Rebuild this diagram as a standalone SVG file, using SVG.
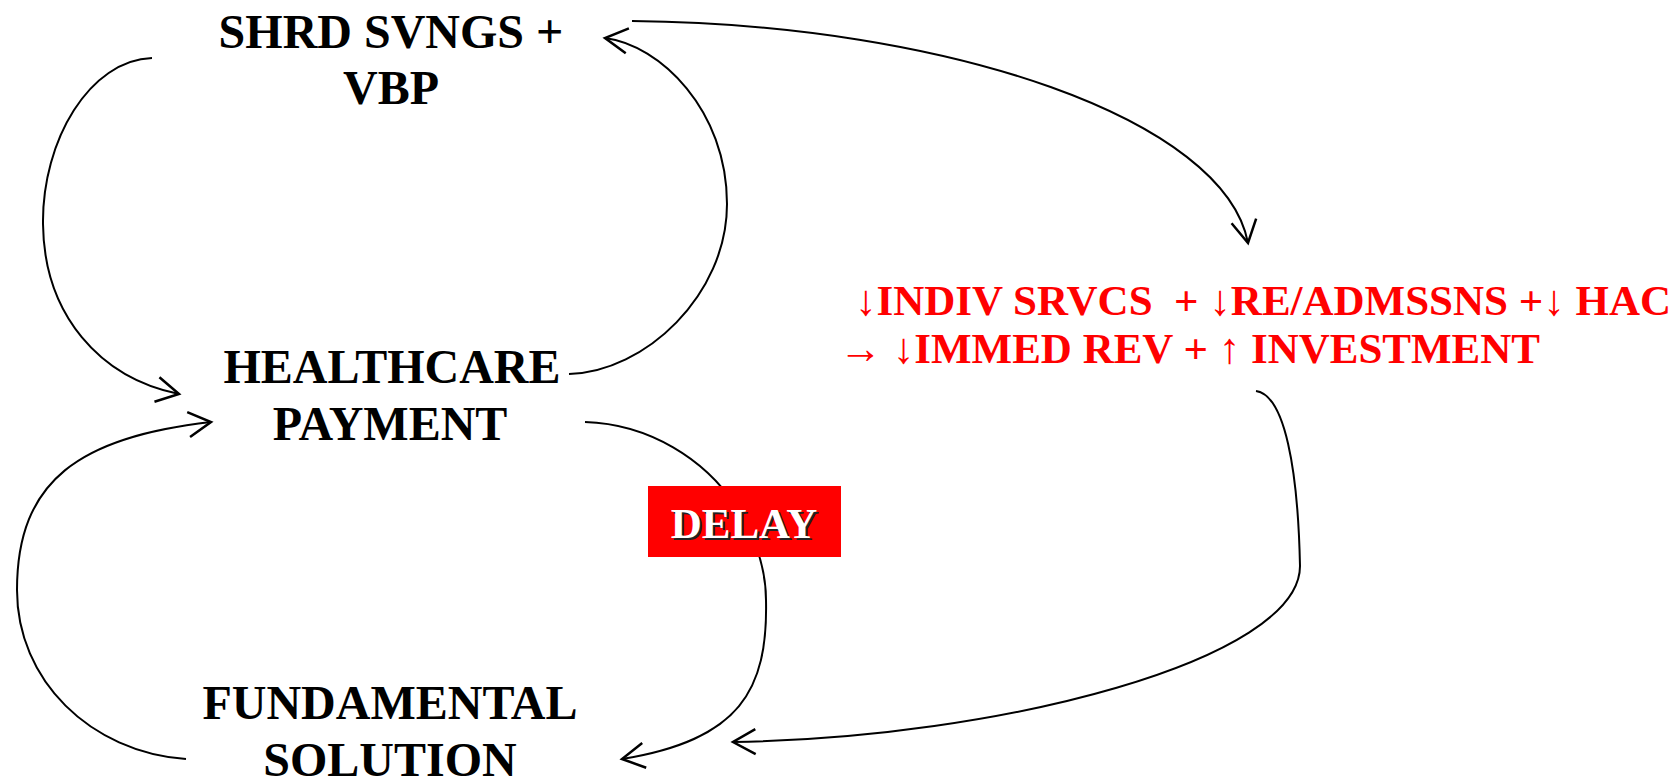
<svg xmlns="http://www.w3.org/2000/svg" width="1675" height="783" viewBox="0 0 1675 783">
  <style>
    .lbl { font-family: "Liberation Serif", "Times New Roman", serif; font-weight: bold; font-size: 48px; fill: #000; text-anchor: middle; }
    .red { font-family: "Liberation Serif", "Times New Roman", serif; font-weight: bold; font-size: 43px; fill: #ff0000; white-space: pre; }
    .delay { font-family: "Liberation Serif", "Times New Roman", serif; font-weight: bold; font-size: 43px; text-anchor: middle; }
    .link { fill: none; stroke: #000; stroke-width: 2; marker-end: url(#open); }
  </style>
  <defs>
    <marker id="open" markerUnits="userSpaceOnUse" markerWidth="30" markerHeight="30" viewBox="-20 -12 24 24" refX="0" refY="0" orient="auto">
      <path d="M-18,-10 L0,0 L-18,10" fill="none" stroke="#000" stroke-width="2"/>
    </marker>
  </defs>

  <!-- connectors -->
  <g id="connectors">
    <!-- shared savings -> healthcare payment (left loop) -->
    <path class="link" d="M152,58 C90,60 42,140 43,224 C44,315 100,378 179,394"/>
    <!-- healthcare payment -> shared savings (right loop) -->
    <path class="link" d="M569,374 C645,372 727,295 727,204 C727,110 660,45 605,38"/>
    <!-- shared savings -> red consequences -->
    <path class="link" d="M632,21 C950,24 1225,120 1248,243"/>
    <!-- red consequences -> fundamental solution -->
    <path class="link" d="M1256,391 C1285,395 1298,470 1300,566 C1300,660 1000,738 733,742"/>
    <!-- healthcare payment -> fundamental solution, through delay -->
    <path class="link" d="M585,422 C650,424 705,460 735,505 C752,530 766,565 766,600 C768,690 740,740 622,759"/>
    <!-- fundamental solution -> healthcare payment -->
    <path class="link" d="M186,759 C90,752 17,680 17,590 C17,480 80,437 211,422"/>
  </g>

  <g id="shared-savings">
    <text class="lbl" x="391" y="48">SHRD SVNGS +</text>
    <text class="lbl" x="391" y="104">VBP</text>
  </g>

  <g id="healthcare-payment">
    <text class="lbl" x="392" y="383">HEALTHCARE</text>
    <text class="lbl" x="390" y="440">PAYMENT</text>
  </g>

  <g id="fundamental-solution">
    <text class="lbl" x="390" y="719">FUNDAMENTAL</text>
    <text class="lbl" x="390" y="776">SOLUTION</text>
  </g>

  <g id="consequences">
    <text class="red" x="855" y="315">↓INDIV SRVCS  + ↓RE/ADMSSNS +↓ HAC</text>
    <text class="red" x="839" y="363">→ ↓IMMED REV + ↑ INVESTMENT</text>
  </g>

  <g id="delay">
    <rect x="648" y="486" width="193" height="71" fill="#ff0000"/>
    <text class="delay" x="746" y="540" fill="#222">DELAY</text>
    <text class="delay" x="744" y="538" fill="#fff">DELAY</text>
  </g>
</svg>
